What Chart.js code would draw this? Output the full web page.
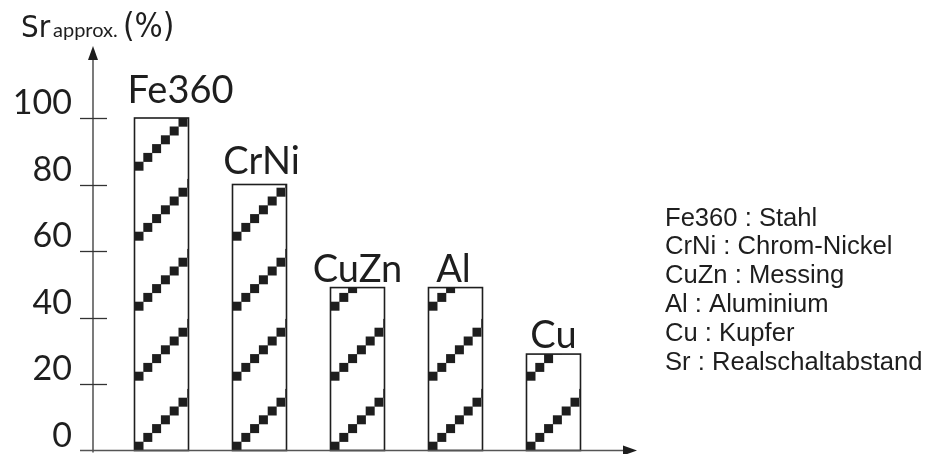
<!DOCTYPE html>
<html>
<head>
<meta charset="utf-8">
<script src="https://cdn.jsdelivr.net/npm/chart.js@4.4.1/dist/chart.umd.min.js"></script>
<style>
  html, body { margin: 0; padding: 0; background: #fff; }
  #wrap { width: 935px; height: 454px; position: relative; }
</style>
</head>
<body>
<div id="wrap"><canvas id="myChart"></canvas></div>
<script>
// values
const categories = ['Fe360', 'CrNi', 'CuZn', 'Al', 'Cu'];
const srValues = [100, 80, 49, 49, 29];
const yTicks = [0, 20, 40, 60, 80, 100];
const materialNames = ['Stahl', 'Chrom-Nickel', 'Messing', 'Aluminium', 'Kupfer'];
const srName = 'Realschaltabstand';

const ink = '#1e1e1e';
const geoFont = 'Lato, "DejaVu Sans", sans-serif';
const narrowFont = '"Liberation Sans Narrow", "DejaVu Sans Condensed", sans-serif';

// staircase hatch inside every bar
const hatchPlugin = {
  id: 'hatch',
  afterDatasetsDraw(chart) {
    const ctx = chart.ctx;
    chart.getDatasetMeta(0).data.forEach((bar) => {
      const left = bar.x - bar.width / 2;
      const w = bar.width;
      const top = bar.y, bottom = bar.base;
      ctx.save();
      ctx.beginPath();
      ctx.rect(left, top, w, bottom - top);
      ctx.clip();
      ctx.fillStyle = ink;
      const step = 8.8, size = 9, period = 70;
      for (let y0 = bottom; y0 > top; y0 -= period) {
        for (let j = 0; j < 7; j++) {
          ctx.fillRect(left + j * step, y0 - (j + 1) * step, size, size);
        }
      }
      ctx.restore();
      ctx.save();
      ctx.strokeStyle = ink;
      ctx.lineWidth = 1.6;
      ctx.strokeRect(left, top, w, bottom - top);
      ctx.restore();
    });
  }
};

// category names above bars
const barLabels = {
  id: 'barLabels',
  afterDatasetsDraw(chart, args, opts) {
    const ctx = chart.ctx;
    ctx.save();
    ctx.fillStyle = ink;
    ctx.font = '38px ' + geoFont;
    ctx.textAlign = 'center';
    ctx.textBaseline = 'alphabetic';
    chart.getDatasetMeta(0).data.forEach((bar, i) => {
      ctx.fillText(categories[i], bar.x + opts.dx[i], bar.y - opts.gap[i]);
    });
    ctx.restore();
  }
};

// arrows, ticks, title and the key on the right
const axesPlugin = {
  id: 'axesDeco',
  afterDraw(chart) {
    const ctx = chart.ctx;
    const a = chart.chartArea;
    const y = chart.scales.y;
    ctx.save();
    ctx.strokeStyle = '#333';
    ctx.fillStyle = ink;
    ctx.lineWidth = 1.3;
    // y axis
    ctx.beginPath();
    ctx.moveTo(a.left, a.bottom + 2);
    ctx.lineTo(a.left, 58);
    ctx.stroke();
    ctx.beginPath();
    ctx.moveTo(a.left, 46);
    ctx.lineTo(a.left - 5, 60);
    ctx.lineTo(a.left + 5, 60);
    ctx.closePath();
    ctx.fill();
    // x axis
    ctx.strokeStyle = '#555';
    ctx.beginPath();
    ctx.moveTo(80, a.bottom);
    ctx.lineTo(a.right - 10, a.bottom);
    ctx.stroke();
    ctx.beginPath();
    ctx.moveTo(a.right + 1, a.bottom);
    ctx.lineTo(a.right - 13, a.bottom - 5);
    ctx.lineTo(a.right - 13, a.bottom + 5);
    ctx.closePath();
    ctx.fill();
    // tick marks crossing the y axis
    ctx.strokeStyle = '#333';
    yTicks.forEach((t) => {
      if (t === 0) return;
      const py = Math.round(y.getPixelForValue(t)) + 0.5;
      ctx.beginPath();
      ctx.moveTo(80, py);
      ctx.lineTo(107, py);
      ctx.stroke();
    });
    // title
    ctx.textBaseline = 'alphabetic';
    ctx.textAlign = 'left';
    ctx.font = '31px ' + narrowFont;
    ctx.fillText('Sr', 21, 37);
    ctx.font = '20px ' + geoFont;
    ctx.fillText('approx.', 53, 37);
    ctx.font = '33px ' + narrowFont;
    ctx.fillText('(%)', 123, 37);
    // key
    ctx.font = '25.6px "Liberation Sans", Arial, sans-serif';
    const lines = categories.map((c, i) => c + ' : ' + materialNames[i]);
    lines.push('Sr : ' + srName);
    lines.forEach((txt, i) => {
      ctx.fillText(txt, 665, 225.5 + i * 28.8);
    });
    ctx.restore();
  }
};

const ctx = document.getElementById('myChart');

new Chart(ctx, {
  type: 'bar',
  data: {
    datasets: [{
      data: srValues.map((v, i) => ({ x: i, y: v })),
      backgroundColor: '#ffffff',
      borderColor: ink,
      borderWidth: 0,
      barThickness: 54
    }]
  },
  options: {
    responsive: true,
    maintainAspectRatio: false,
    animation: false,
    events: [],
    layout: { padding: { top: 118, bottom: 3.5, left: 0, right: 299 } },
    plugins: {
      legend: { display: false },
      tooltip: { enabled: false },
      barLabels: { dx: [19, 2, 0, -2, 0], gap: [15, 11, 6, 6, 6] }
    },
    scales: {
      x: {
        type: 'linear',
        display: false,
        offset: false,
        grid: { offset: false },
        min: -0.699,
        max: 4.842
      },
      y: {
        min: 0,
        max: 100,
        grid: { display: false, drawTicks: false },
        border: { display: false },
        afterFit: (s) => { s.width = 93; s.paddingTop = 0; s.paddingBottom = 0; },
        afterBuildTicks: (s) => { s.ticks = yTicks.map((v) => ({ value: v })); },
        ticks: {
          padding: 21,
          labelOffset: -14.5,
          color: ink,
          font: { family: geoFont, size: 34 }
        }
      }
    }
  },
  plugins: [hatchPlugin, barLabels, axesPlugin]
});
</script>
</body>
</html>
